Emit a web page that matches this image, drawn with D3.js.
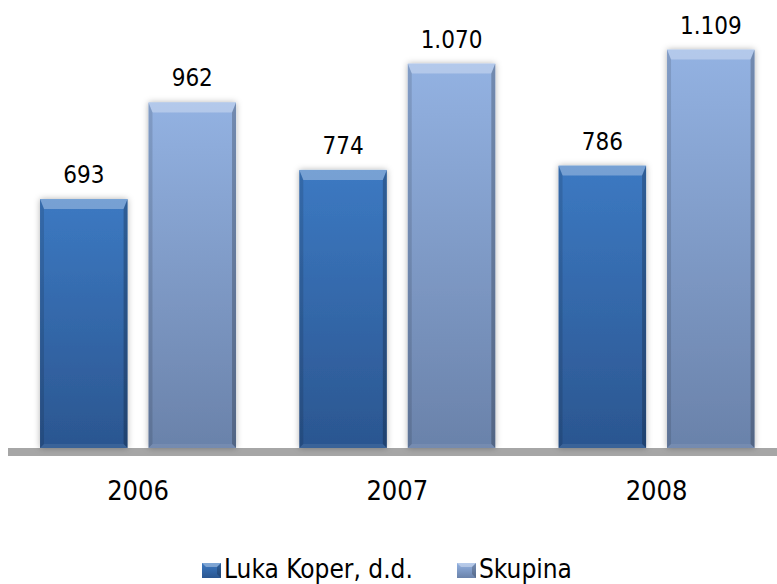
<!DOCTYPE html>
<html lang="sl">
<head>
    <meta charset="UTF-8">
    <title>Luka Koper - Skupina</title>
    <script src="https://d3js.org/d3.v7.min.js"></script>
    <style>
        html, body { margin: 0; padding: 0; background: #fff; }
        svg text { font-family: "DejaVu Sans Condensed", "DejaVu Sans", sans-serif; font-stretch: condensed; fill: #000; }
    </style>
</head>
<body>
    <div id="chart"></div>
    <script>
        // data
        const years = ['2006', '2007', '2008'];
        const seriesNames = ['Luka Koper, d.d.', 'Skupina'];
        const lukaKoper = [693, 774, 786];
        const skupina = [962, 1070, 1109];

        const W = 777, H = 584;
        const svg = d3.select('#chart').append('svg')
            .attr('width', W).attr('height', H);

        const defs = svg.append('defs');
        const colors = [
            { top: '#3c79c2', bottom: '#2b5690', id: 'g0' },
            { top: '#93b2e2', bottom: '#6a82aa', id: 'g1' }
        ];
        colors.forEach(c => {
            const lg = defs.append('linearGradient').attr('id', c.id)
                .attr('x1', 0).attr('y1', 0).attr('x2', 0).attr('y2', 1);
            lg.append('stop').attr('offset', '0%').attr('stop-color', c.top);
            lg.append('stop').attr('offset', '100%').attr('stop-color', c.bottom);
        });
        const f = defs.append('filter').attr('id', 'shadow')
            .attr('x', '-20%').attr('y', '-10%').attr('width', '140%').attr('height', '120%');
        f.append('feDropShadow').attr('dx', 0).attr('dy', 0)
            .attr('stdDeviation', 3).attr('flood-color', '#000').attr('flood-opacity', 0.3);

        const fmt = d3.formatLocale({ decimal: ',', thousands: '.', grouping: [3], currency: ['', ' €'] }).format(',d');

        const baseY = 448;
        const x0 = d3.scaleBand().domain(years).range([8.4, 786.2])
            .paddingInner(0.244).paddingOuter(0.122);
        const x1 = d3.scaleBand().domain(seriesNames).range([0, x0.bandwidth()])
            .paddingInner(0.193);
        const y = d3.scaleLinear().domain([0, 1247]).range([baseY, 0]);

        const rows = years.map((yr, i) => ({ year: yr, values: [lukaKoper[i], skupina[i]] }));

        // axis band
        const axis = svg.append('g').attr('transform', `translate(0,${baseY + 4})`)
            .call(d3.axisBottom(x0).tickSize(0).tickSizeOuter(0));
        axis.select('.domain').attr('stroke', '#a6a6a6').attr('stroke-width', 8)
            .attr('d', `M8,0H${W}`);
        axis.selectAll('.tick text')
            .attr('y', 0).attr('dy', 52 - 4)
            .style('font-size', '27px');

        function drawBar(g, w, h, s) {
            g.append('rect').attr('width', w).attr('height', h)
                .attr('fill', `url(#g${s})`).attr('filter', 'url(#shadow)');
            const bt = Math.min(10, h / 2), bs = 4;
            g.append('polygon')
                .attr('points', [[0, 0], [w, 0], [w - bs, bt], [bs, bt]].join(' '))
                .attr('fill', '#fff').attr('opacity', 0.3);
            g.append('polygon')
                .attr('points', [[0, 0], [bs, bt], [bs, h - bs], [0, h]].join(' '))
                .attr('fill', '#000').attr('opacity', 0.12);
            g.append('polygon')
                .attr('points', [[w, 0], [w, h], [w - bs, h - bs], [w - bs, bt]].join(' '))
                .attr('fill', '#000').attr('opacity', 0.22);
            g.append('polygon')
                .attr('points', [[0, h], [bs, h - bs], [w - bs, h - bs], [w, h]].join(' '))
                .attr('fill', '#fff').attr('opacity', 0.08);
        }

        const groups = svg.selectAll('.year').data(rows).enter().append('g')
            .attr('class', 'year')
            .attr('transform', d => `translate(${x0(d.year)},0)`);

        groups.each(function (d) {
            const g = d3.select(this);
            d.values.forEach((v, s) => {
                const bx = x1(seriesNames[s]);
                const bw = x1.bandwidth();
                const bar = g.append('g').attr('transform', `translate(${bx},${y(v)})`);
                drawBar(bar, bw, baseY - y(v), s);
                g.append('text')
                    .attr('x', bx + bw / 2)
                    .attr('y', y(v) - 16)
                    .attr('text-anchor', 'middle')
                    .style('font-size', '24px')
                    .text(fmt(v));
            });
        });

        // legend
        const legendX = [202, 457];
        const legend = svg.append('g').attr('transform', 'translate(0,563)');
        seriesNames.forEach((name, s) => {
            const lg = legend.append('g').attr('transform', `translate(${legendX[s]},0)`);
            lg.append('rect').attr('width', 19).attr('height', 15)
                .attr('fill', `url(#g${s})`);
            lg.append('polygon').attr('points', '0,0 19,0 15,4 4,4').attr('fill', '#fff').attr('opacity', 0.35);
            lg.append('polygon').attr('points', '19,0 19,15 15,11 15,4').attr('fill', '#000').attr('opacity', 0.2);
            lg.append('text').attr('x', 22).attr('y', 15)
                .style('font-size', '26px').text(name);
        });
    </script>
</body>
</html>
